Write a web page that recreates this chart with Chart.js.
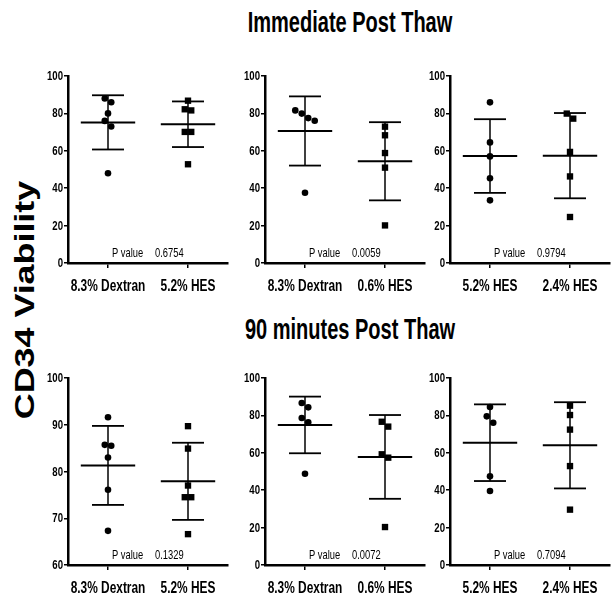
<!DOCTYPE html>
<html>
<head>
<meta charset="utf-8">
<script src="https://cdn.jsdelivr.net/npm/chart.js@4.4.1/dist/chart.umd.min.js"></script>
<style>
  body { margin: 0; background: #fff; }
  #fig { position: relative; width: 615px; height: 593px; overflow: hidden; background: #fff; }
  .panel { position: absolute; }
  .title {
    position: absolute; left: 350px; white-space: nowrap;
    font-family: 'Liberation Sans', Arial, sans-serif; font-weight: bold;
    font-size: 29px; line-height: 29px; color: #000;
    transform: translateX(-50%) scaleX(0.69);
  }
  #ylab {
    position: absolute; left: 25px; top: 300px; white-space: nowrap;
    font-family: 'Liberation Sans', Arial, sans-serif; font-weight: bold;
    font-size: 28px; line-height: 28px; color: #000;
    transform: translate(-50%, -50%) rotate(-90deg) scale(1.28, 1);
  }
</style>
</head>
<body>
<div id="fig">
  <div class="title" id="t1" style="top:8px"></div>
  <div class="title" id="t2" style="top:315px"></div>
  <div id="ylab"></div>
  <canvas class="panel" id="p1" width="205" height="230" style="left:28px;top:66px"></canvas>
  <canvas class="panel" id="p2" width="205" height="230" style="left:225px;top:66px"></canvas>
  <canvas class="panel" id="p3" width="205" height="230" style="left:410px;top:66px"></canvas>
  <canvas class="panel" id="p4" width="205" height="230" style="left:28px;top:368px"></canvas>
  <canvas class="panel" id="p5" width="205" height="230" style="left:225px;top:368px"></canvas>
  <canvas class="panel" id="p6" width="205" height="230" style="left:410px;top:368px"></canvas>
</div>
<script>
// titles and axis text
const panelTitles = ['Immediate Post Thaw', '90 minutes Post Thaw'];
const yTitle = 'CD34 Viability';

// category pairs
const labelsA = ['8.3% Dextran', '5.2% HES'];
const labelsB = ['8.3% Dextran', '0.6% HES'];
const labelsC = ['5.2% HES', '2.4% HES'];

// Immediate post thaw
const immA0 = [88, 86, 80, 76, 73, 48];
const immA1 = [86.8, 81.6, 82.2, 70.1, 70.1, 52.8];
const immAMean = [75.2, 74.2];
const immASd = [14.5, 12.2];

const immB0 = [81.6, 77.5, 76.1, 79.9, 37.6];
const immB1 = [72.9, 68.3, 58.8, 51.0, 20.1];
const immBMean = [70.6, 54.4];
const immBSd = [18.5, 20.9];

const immC0 = [85.9, 64.5, 57.0, 45.3, 33.5];
const immC1 = [79.9, 77.2, 59.4, 46.3, 24.6];
const immCMean = [57.2, 57.4];
const immCSd = [19.7, 22.8];

// 90 minutes post thaw
const m90A0 = [91.6, 85.7, 85.5, 83.0, 76.1, 67.3];
const m90A1 = [89.7, 84.9, 77.0, 74.5, 74.5, 66.6];
const m90AMean = [81.3, 77.9];
const m90ASd = [8.45, 8.25];

const m90B0 = [84.3, 86.6, 78.6, 76.3, 48.8];
const m90B1 = [74.0, 76.6, 59.2, 57.4, 20.3];
const m90BMean = [74.9, 57.8];
const m90BSd = [15.15, 22.4];

const m90C0 = [84.5, 79.5, 76.1, 47.4, 39.6];
const m90C1 = [85.2, 80.2, 72.4, 52.9, 29.6];
const m90CMean = [65.4, 64.0];
const m90CSd = [20.5, 23.05];

const pValues = ['0.6754', '0.0059', '0.9794', '0.1329', '0.0072', '0.7094'];

document.getElementById('t1').textContent = panelTitles[0];
document.getElementById('t2').textContent = panelTitles[1];
document.getElementById('ylab').textContent = yTitle;

const SANS = "'Liberation Sans', Arial, sans-serif";

// spread points with close values sideways, like a prism column scatter
function swarm(values, cx, thresh, step) {
  const idx = values.map((v, i) => i).sort((a, b) => values[b] - values[a]);
  const out = new Array(values.length);
  let cluster = [];
  const flush = () => {
    cluster.forEach((k, j) => {
      out[k] = { x: cx + (j - (cluster.length - 1) / 2) * step, y: values[k] };
    });
    cluster = [];
  };
  idx.forEach(k => {
    if (cluster.length && values[cluster[cluster.length - 1]] - values[k] >= thresh) flush();
    cluster.push(k);
  });
  flush();
  return out;
}

function seg(x0, x1, y0, y1, w) {
  return {
    type: 'line', data: [{ x: x0, y: y0 }, { x: x1, y: y1 }],
    borderColor: '#000', borderWidth: w, pointRadius: 0, fill: false
  };
}

// condensed text: the original figure uses a narrow face
function squeezed(ctx, text, x, y, font, sx, align, baseline) {
  ctx.save();
  ctx.translate(x, y);
  ctx.scale(sx, 1);
  ctx.font = font;
  ctx.fillStyle = '#000';
  ctx.textAlign = align;
  ctx.textBaseline = baseline;
  ctx.fillText(text, 0, 0);
  ctx.restore();
}

function makePanel(id, labels, g0, g1, means, sds, yMin, yMax, yStep, pval) {
  const range = yMax - yMin;
  const datasets = [];
  [g0, g1].forEach((vals, i) => {
    datasets.push({
      type: 'scatter',
      data: swarm(vals, i, range * 0.035, 0.081),
      pointStyle: i === 0 ? 'circle' : 'rect',
      pointRadius: i === 0 ? 3.3 : 4.5,
      backgroundColor: '#000', borderColor: '#000', borderWidth: 0
    });
    const hi = means[i] + sds[i], lo = means[i] - sds[i];
    datasets.push(seg(i - 0.34, i + 0.34, means[i], means[i], 2));
    datasets.push(seg(i - 0.2, i + 0.2, hi, hi, 1.8));
    datasets.push(seg(i - 0.2, i + 0.2, lo, lo, 1.8));
    datasets.push(seg(i, i, lo, hi, 1.5));
  });

  const textPlugin = {
    id: 'panelText',
    afterDraw(chart) {
      const { ctx, chartArea, scales } = chart;
      const x0 = scales.x.getPixelForValue(0);
      // category labels
      labels.forEach((lab, i) => {
        squeezed(ctx, lab, scales.x.getPixelForValue(i), chartArea.bottom + 28,
          'bold 17px ' + SANS, 0.7, 'center', 'alphabetic');
      });
      // y tick labels
      scales.y.ticks.forEach(t => {
        squeezed(ctx, String(t.value), chartArea.left - 5, scales.y.getPixelForValue(t.value) + 0.5,
          'bold 13px ' + SANS, 0.74, 'right', 'middle');
      });
      // p value note
      squeezed(ctx, 'P value', x0 + 4, chartArea.bottom - 6, '13px ' + SANS, 0.72, 'left', 'alphabetic');
      squeezed(ctx, pval, x0 + 47, chartArea.bottom - 6, '13px ' + SANS, 0.72, 'left', 'alphabetic');
    }
  };

  new Chart(document.getElementById(id), {
    type: 'scatter',
    data: { datasets },
    plugins: [textPlugin],
    options: {
      responsive: false,
      animation: false,
      layout: { padding: { top: 10, right: 5, left: 0, bottom: 0 } },
      plugins: { legend: { display: false }, tooltip: { enabled: false } },
      scales: {
        x: {
          type: 'linear', min: -0.5, max: 1.5,
          afterBuildTicks: s => { s.ticks = [{ value: 0 }, { value: 1 }]; },
          afterFit: s => { s.height = 33; },
          ticks: { display: false },
          grid: { display: true, drawOnChartArea: false, drawTicks: true, tickLength: 5, color: '#000', lineWidth: 1.5 },
          border: { display: true, color: '#000', width: 2.5 }
        },
        y: {
          min: yMin, max: yMax,
          afterFit: s => { s.width = 40; },
          ticks: { display: false, stepSize: yStep },
          grid: { display: true, drawOnChartArea: false, drawTicks: true, tickLength: 4, color: '#000', lineWidth: 1.5 },
          border: { display: true, color: '#000', width: 2.5 }
        }
      }
    }
  });
}

makePanel('p1', labelsA, immA0, immA1, immAMean, immASd, 0, 100, 20, pValues[0]);
makePanel('p2', labelsB, immB0, immB1, immBMean, immBSd, 0, 100, 20, pValues[1]);
makePanel('p3', labelsC, immC0, immC1, immCMean, immCSd, 0, 100, 20, pValues[2]);
makePanel('p4', labelsA, m90A0, m90A1, m90AMean, m90ASd, 60, 100, 10, pValues[3]);
makePanel('p5', labelsB, m90B0, m90B1, m90BMean, m90BSd, 0, 100, 20, pValues[4]);
makePanel('p6', labelsC, m90C0, m90C1, m90CMean, m90CSd, 0, 100, 20, pValues[5]);
</script>
</body>
</html>
